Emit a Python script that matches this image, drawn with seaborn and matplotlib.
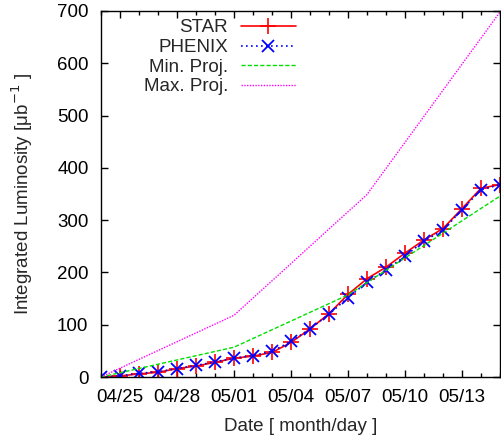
import numpy as np
import pandas as pd
import matplotlib
matplotlib.use("Agg")
import matplotlib.pyplot as plt
import matplotlib.dates as mdates
from matplotlib.ticker import FixedLocator, NullLocator
import seaborn as sns

# ---- data ----
dates = pd.date_range("2010-04-24", "2010-05-15", freq="D")
star = [0, 2, 6, 9, 16, 21, 28, 36, 40, 47, 66, 92, 121, 158, 188, 210, 237, 262, 284, 322, 361, 368]
phenix = [0, 2, 7, 10, 16, 22, 29, 36, 41, 49, 68, 92, 120, 152, 181, 205, 231, 260, 281, 320, 358, 368]
proj_dates = ["2010-04-24", "2010-05-01", "2010-05-07", "2010-05-15"]
min_proj = [0, 57, 157, 346]
max_dates = ["2010-04-24", "2010-05-01", "2010-05-08", "2010-05-15"]
max_proj = [0, 118, 349, 698]
tick_dates = ["2010-04-25", "2010-04-28", "2010-05-01", "2010-05-04",
              "2010-05-07", "2010-05-10", "2010-05-13"]
tick_labels = ["04/25", "04/28", "05/01", "05/04", "05/07", "05/10", "05/13"]
y_ticks = [0, 100, 200, 300, 400, 500, 600, 700]

FS = 13.5
sns.set_style("ticks")
plt.rcParams["font.family"] = ["Liberation Sans", "DejaVu Sans"]
plt.rcParams["font.size"] = FS

fig = plt.figure(figsize=(5.01, 4.43), dpi=100)
ax = fig.add_axes([101 / 501, 1 - 377 / 443, 399 / 501, 366 / 443])

df_star = pd.DataFrame({"date": dates, "lum": star})
df_phx = pd.DataFrame({"date": dates, "lum": phenix})
df_min = pd.DataFrame({"date": pd.to_datetime(proj_dates), "lum": min_proj})
df_max = pd.DataFrame({"date": pd.to_datetime(max_dates), "lum": max_proj})

sns.lineplot(data=df_star, x="date", y="lum", ax=ax, color="#ff0000", lw=1.2,
             marker="+", markersize=11, mec="#ff0000", mew=1.2, label="STAR")
sns.lineplot(data=df_phx, x="date", y="lum", ax=ax, color="#0000ff", lw=1.2,
             linestyle=(0, (1, 2)), marker="x", markersize=8.5, mec="#0000ff",
             mew=1.3, label="PHENIX")
sns.lineplot(data=df_min, x="date", y="lum", ax=ax, color="#00e000", lw=1.0,
             linestyle=(0, (3, 1.5)), label="Min. Proj.")
sns.lineplot(data=df_max, x="date", y="lum", ax=ax, color="#ff00ff", lw=1.0,
             linestyle=(0, (1, 1)), label="Max. Proj.")

ax.set_xlim(dates[0], dates[-1])
ax.set_ylim(0, 700)
ax.xaxis.set_major_locator(FixedLocator(mdates.date2num(pd.to_datetime(tick_dates))))
ax.set_xticklabels(tick_labels)
ax.xaxis.set_minor_locator(FixedLocator(mdates.date2num(dates)))
ax.set_yticks(y_ticks)
ax.yaxis.set_minor_locator(NullLocator())
ax.tick_params(which="both", direction="in", top=True, right=True,
               labelsize=FS, colors="black", width=1)
ax.tick_params(which="major", length=5, pad=9)
ax.tick_params(which="minor", length=3)
for s in ax.spines.values():
    s.set_color("black")
    s.set_linewidth(1)

ax.set_xlabel("Date [ month/day ]", fontsize=FS, labelpad=8)
ax.set_ylabel("Integrated Luminosity [\u03bcb$^{-1}$ ]", fontsize=FS, labelpad=16)

leg = ax.legend(loc="upper right", bbox_to_anchor=(305 / 501, 1 - 10 / 443),
                bbox_transform=fig.transFigure, frameon=False, markerfirst=False,
                handlelength=2.9, handletextpad=0.7, labelspacing=0.13,
                borderpad=0, fontsize=FS)

fig.savefig("out.png", dpi=100)
